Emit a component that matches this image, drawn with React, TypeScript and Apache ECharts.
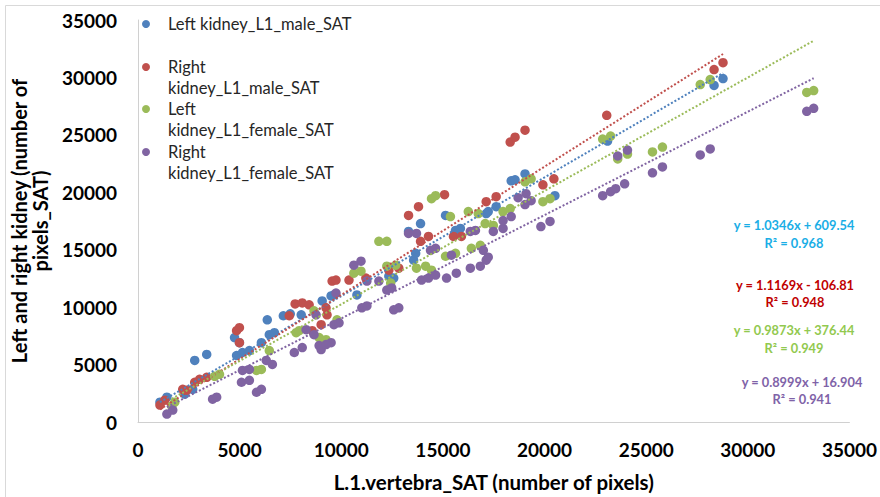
import React, { useEffect, useRef } from "react";
import * as echarts from "echarts";

const SERIES_NAMES = [
  "Left kidney_L1_male_SAT",
  "Right kidney_L1_male_SAT",
  "Left kidney_L1_female_SAT",
  "Right kidney_L1_female_SAT",
];
const LEGEND_LABELS = [
  "Left kidney_L1_male_SAT",
  " \nRight\nkidney_L1_male_SAT",
  " \nLeft\nkidney_L1_female_SAT",
  " \nRight\nkidney_L1_female_SAT",
];

const leftMaleX = [1080, 1420, 2300, 2690, 2790, 3380, 4750, 4990, 4850, 5140, 5480, 6070, 6460, 6710, 6360, 7150, 7490, 8030, 9060, 9500, 9640, 10770, 12340, 12580, 13310, 13900, 13560, 13660, 15130, 15620, 15860, 17130, 17620, 17230, 18360, 18550, 19040, 20510, 23100, 28340, 28780];
const leftMaleY = [1730, 2160, 2420, 2850, 5360, 5880, 7350, 6910, 5790, 6050, 6220, 6910, 7600, 7780, 8900, 9250, 9420, 9330, 10540, 10980, 11060, 11060, 12700, 12530, 16590, 17280, 14090, 14690, 17980, 16680, 16850, 18150, 18750, 18320, 21000, 21090, 21600, 19700, 24460, 29300, 29900];

const rightMaleX = [1080, 1320, 2200, 2400, 2790, 3030, 3380, 4850, 4990, 4990, 7440, 7730, 8080, 8420, 8570, 9250, 9300, 9010, 9550, 9740, 10380, 11210, 12340, 12830, 13310, 13800, 13900, 14290, 15080, 15520, 15910, 17130, 17620, 18310, 18550, 19040, 19920, 20460, 23060, 28340, 28780];
const rightMaleY = [1470, 1900, 2850, 2770, 3460, 3720, 3890, 7950, 8210, 6910, 9250, 10280, 10370, 10200, 7950, 9940, 9330, 8470, 12270, 12360, 12360, 12530, 13220, 13390, 17980, 18750, 15730, 16160, 19790, 16160, 16160, 19180, 19620, 24370, 24800, 25410, 20650, 21170, 26700, 30680, 31280];

const leftFemaleX = [1660, 1810, 3770, 4010, 5830, 6070, 6460, 7780, 7930, 9060, 8660, 8910, 9250, 9790, 10620, 10970, 11850, 12240, 12240, 12680, 12430, 13700, 14150, 14440, 14440, 14640, 15370, 15130, 15620, 16250, 16740, 16400, 16840, 17080, 17480, 17960, 18310, 19040, 19340, 19920, 20270, 22860, 23250, 23600, 24080, 25310, 25800, 27660, 28150, 32900, 33240];
const leftFemaleY = [1380, 1730, 3980, 4150, 4490, 4580, 6220, 7780, 7950, 7090, 9680, 7350, 7170, 8900, 12960, 13130, 15730, 15730, 13570, 13650, 12100, 13390, 13570, 13220, 19440, 19700, 17890, 14430, 14690, 18320, 18150, 15120, 15380, 17280, 17110, 18320, 18580, 20910, 21170, 19180, 19440, 24630, 24890, 22900, 23330, 23510, 23940, 29380, 29810, 28690, 28860];

const rightFemaleX = [1420, 1710, 3670, 3870, 5140, 5480, 5090, 5480, 5830, 6070, 6310, 6610, 7690, 8080, 9010, 9500, 8270, 8660, 8760, 8910, 9250, 9640, 9890, 9740, 10620, 10970, 11010, 11260, 11260, 11850, 12240, 12480, 12580, 12830, 13310, 13700, 13950, 14290, 14640, 14390, 14640, 15180, 15660, 15420, 16350, 16600, 16350, 16840, 17130, 16990, 17230, 17480, 17960, 17960, 18360, 18700, 19090, 19340, 19040, 19820, 20270, 22860, 23250, 23500, 23940, 23600, 24080, 25310, 25800, 27660, 28150, 32900, 33240];
const rightFemaleY = [690, 1040, 1990, 2160, 4490, 4580, 3460, 3630, 2590, 2850, 5360, 5010, 6050, 6480, 6310, 6910, 8040, 7600, 9330, 6650, 6740, 8470, 8640, 11230, 13650, 14000, 9940, 10110, 12270, 12270, 11490, 11670, 9770, 9940, 16420, 16420, 12360, 12530, 12790, 14950, 15120, 12530, 12960, 14520, 16590, 16680, 13390, 13570, 14090, 14950, 14350, 16590, 16850, 17540, 17890, 19530, 19880, 19270, 18930, 17020, 17460, 19700, 20050, 20310, 20740, 23160, 23680, 21690, 22210, 23250, 23770, 27050, 27310];

// Trendline equations as printed on the chart
const SLOPES = [1.0346, 1.1169, 0.9873, 0.8999];
const INTERCEPTS = [609.54, -106.81, 376.44, 16.904];
const EQUATIONS = [
  "y = 1.0346x + 609.54\nR² = 0.968",
  "y = 1.1169x - 106.81\nR² = 0.948",
  "y = 0.9873x + 376.44\nR² = 0.949",
  "y = 0.8999x + 16.904\nR² = 0.941",
];

const MARKER_COLORS = ["#4F81BD", "#C0504D", "#9BBB59", "#8064A2"];
const EQ_COLORS = ["#1AAEE6", "#C00000", "#92C94F", "#7F63A8"];
const FONT = "Lato, 'Open Sans', sans-serif";

export default function App() {
  const ref = useRef<HTMLDivElement>(null);
  useEffect(() => {
    const chart = echarts.init(ref.current!, null, { renderer: "svg" });
    const xs = [leftMaleX, rightMaleX, leftFemaleX, rightFemaleX];
    const ys = [leftMaleY, rightMaleY, leftFemaleY, rightFemaleY];

    const scatter = SERIES_NAMES.map((name, i) => ({
      name,
      type: "scatter",
      symbol: "circle",
      symbolSize: 9.5,
      itemStyle: { color: MARKER_COLORS[i], opacity: 1 },
      data: xs[i].map((x, k) => [x, ys[i][k]]),
      z: 2,
    }));

    const trends = SERIES_NAMES.map((name, i) => {
      const x0 = Math.min(...xs[i]);
      const x1 = Math.max(...xs[i]);
      return {
        name: name + " trend",
        type: "line",
        showSymbol: false,
        symbol: "none",
        lineStyle: { color: MARKER_COLORS[i], width: 2, type: [2, 2] },
        data: [
          [x0, SLOPES[i] * x0 + INTERCEPTS[i]],
          [x1, SLOPES[i] * x1 + INTERCEPTS[i]],
        ],
        z: 3,
        silent: true,
      };
    });

    const legendIconCenters = [24, 67, 109, 152];
    const legends = SERIES_NAMES.map((name, i) => ({
      data: [name],
      orient: "vertical",
      left: 142,
      top: i === 0 ? legendIconCenters[i] - 10.5 : legendIconCenters[i] - 31.5,
      padding: 0,
      icon: "circle",
      itemWidth: 34,
      itemHeight: 8,
      selectedMode: false,
      formatter: () => LEGEND_LABELS[i],
      textStyle: {
        fontFamily: FONT,
        fontSize: 16.5,
        color: "#262626",
        lineHeight: 21,
      },
    }));

    const eqPos = [
      [794, 234],
      [795, 293.5],
      [794, 339],
      [802, 390.5],
    ];

    const plain = (v: number) => String(v);

    const option = {
      animation: false,
      backgroundColor: "#ffffff",
      grid: { left: 138, right: 27, top: 20, bottom: 72 },
      legend: legends,
      xAxis: {
        type: "value",
        min: 0,
        max: 35000,
        interval: 5000,
        name: "L.1.vertebra_SAT (number of pixels)",
        nameLocation: "middle",
        nameGap: 49,
        nameTextStyle: { fontFamily: FONT, fontSize: 20.5, fontWeight: "bold", color: "#000" },
        axisLine: { show: true, lineStyle: { color: "#D0D0D0", width: 1 } },
        axisTick: { show: false },
        splitLine: { show: false },
        axisLabel: { margin: 18, fontFamily: FONT, fontSize: 19, fontWeight: "bold", color: "#000", formatter: plain },
      },
      yAxis: {
        type: "value",
        min: 0,
        max: 35000,
        interval: 5000,
        name: "Left and right kidney (number of\npixels_SAT)",
        nameLocation: "middle",
        nameRotate: 90,
        nameGap: 73,
        nameTextStyle: {
          fontFamily: FONT,
          fontSize: 20,
          fontWeight: "bold",
          color: "#000",
          lineHeight: 21,
        },
        axisLine: { show: true, lineStyle: { color: "#D0D0D0", width: 1 } },
        axisTick: { show: false },
        splitLine: { show: false },
        axisLabel: { margin: 21, fontFamily: FONT, fontSize: 19, fontWeight: "bold", color: "#000", formatter: plain },
      },
      graphic: [
        {
          type: "rect",
          silent: true,
          z: -10,
          shape: { x: 5.5, y: 5.5, width: 900, height: 520 },
          style: { fill: "none", stroke: "#D9D9D9", lineWidth: 1 },
        },
        ...EQUATIONS.map((t, i) => ({
          type: "text",
          x: eqPos[i][0],
          y: eqPos[i][1],
          silent: true,
          z: 10,
          style: {
            text: t,
            fill: EQ_COLORS[i],
            fontFamily: FONT,
            fontSize: 12.8,
            fontWeight: "bold",
            lineHeight: 17.5,
            align: "center",
            verticalAlign: "middle",
          },
        })),
      ],
      series: [...scatter, ...trends],
    };
    chart.setOption(option as any);
    return () => chart.dispose();
  }, []);
  return (
    <div
      ref={ref}
      style={{ position: "absolute", left: 0, top: 0, width: 880, height: 497, background: "#fff" }}
    />
  );
}
